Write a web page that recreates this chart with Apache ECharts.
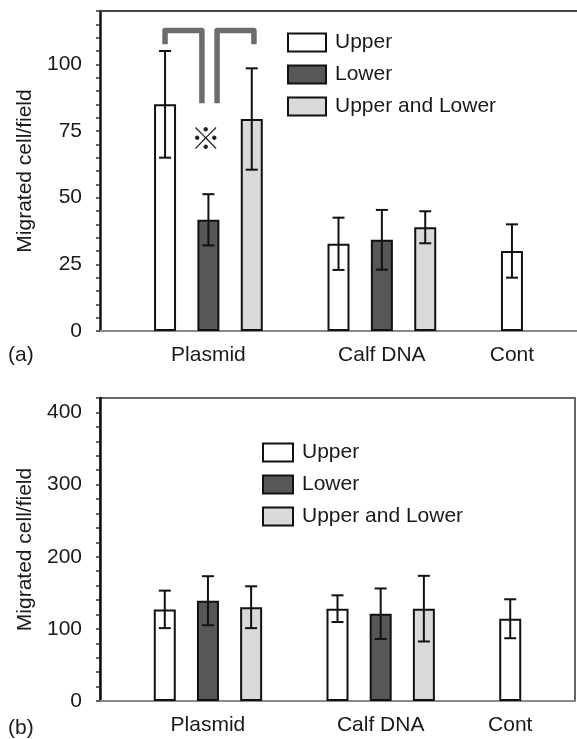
<!DOCTYPE html>
<html>
<head>
<meta charset="utf-8">
<script src="https://cdn.jsdelivr.net/npm/echarts@6/dist/echarts.min.js"></script>
<style>
  html, body { margin: 0; padding: 0; background: #fff; }
  #chart { width: 577px; height: 739px; }
</style>
</head>
<body>
<div id="chart"></div>
<script>
const groups = ['Plasmid', 'Calf DNA', 'Cont']
const seriesNames = ['Upper', 'Lower', 'Upper and Lower']
const labelSlots = [2, 6, 9]
const slotCount = 11

// panel (a)
const upperA = [85, 32.7, 30]
const upperSdA = [20, 9.8, 10]
const lowerA = [41.7, 34.2, null]
const lowerSdA = [9.6, 11.2, null]
const bothA = [79.5, 38.9, null]
const bothSdA = [19, 6, null]

// panel (b)
const upperB = [127, 128, 114]
const upperSdB = [26, 18.5, 27]
const lowerB = [139, 121, null]
const lowerSdB = [34, 35, null]
const bothB = [130, 128, null]
const bothSdB = [29, 45.5, null]

const yTicksA = [0, 25, 50, 75, 100]
const yTicksB = [0, 100, 200, 300, 400]

// significance bracket in panel (a): [x left, y left end, x right, y top, y right end]
const brackets = [
  [1.0, 107.5, 1.85, 112.7, 85.4],
  [2.2, 85.4, 3.05, 112.7, 107.5]
]
const markText = [[1.94, 72.4, '※']]

const fills = ['#ffffff', '#575757', '#d9d9d9']
const font = "'Liberation Sans', Arial, sans-serif"

const slotLabels = []
for (let i = 0; i < slotCount; i++) slotLabels.push('')
labelSlots.forEach((s, g) => { slotLabels[s] = groups[g] })

const slotOf = (g, s) => 1 + g * 4 + s

function toSlots(vals, s) {
  const arr = []
  for (let i = 0; i < slotCount; i++) arr.push('-')
  vals.forEach((v, g) => {
    if (v != null) arr[slotOf(g, s)] = v
  })
  return arr
}

function errData(vals, sds, s) {
  const out = []
  vals.forEach((v, g) => {
    if (v != null) out.push([slotOf(g, s), v, sds[g]])
  })
  return out
}

function renderErr(params, api) {
  const x = api.value(0)
  const m = api.value(1)
  const sd = api.value(2)
  const top = api.coord([x, m + sd])
  const bot = api.coord([x, m - sd])
  const hw = 6
  const st = { stroke: '#111', lineWidth: 2 }
  return {
    type: 'group',
    children: [
      { type: 'line', shape: { x1: top[0], y1: top[1], x2: bot[0], y2: bot[1] }, style: st },
      { type: 'line', shape: { x1: top[0] - hw, y1: top[1], x2: top[0] + hw, y2: top[1] }, style: st },
      { type: 'line', shape: { x1: bot[0] - hw, y1: bot[1], x2: bot[0] + hw, y2: bot[1] }, style: st }
    ]
  }
}

function renderBracket(params, api) {
  const p1 = api.coord([api.value(0), api.value(1)])
  const p2 = api.coord([api.value(0), api.value(3)])
  const p3 = api.coord([api.value(2), api.value(3)])
  const p4 = api.coord([api.value(2), api.value(4)])
  return {
    type: 'polyline',
    shape: { points: [p1, p2, p3, p4] },
    style: { stroke: '#6c6c6c', lineWidth: 5.5, fill: null, lineJoin: 'round' }
  }
}

function renderMark(params, api) {
  const p = api.coord([api.value(0), api.value(1)])
  return {
    type: 'text',
    x: p[0],
    y: p[1],
    style: {
      text: markText[params.dataIndex][2],
      fontSize: 30,
      fontFamily: "'Noto Sans CJK JP'",
      fill: '#222',
      align: 'center',
      verticalAlign: 'middle'
    }
  }
}

function barSeries(vals, s, axis) {
  return {
    name: seriesNames[s],
    type: 'bar',
    xAxisIndex: axis,
    yAxisIndex: axis,
    data: toSlots(vals, s),
    barWidth: 22,
    barGap: '-100%',
    itemStyle: { color: fills[s], borderColor: '#111', borderWidth: 2 }
  }
}

function errSeries(vals, sds, s, axis) {
  return {
    type: 'custom',
    xAxisIndex: axis,
    yAxisIndex: axis,
    data: errData(vals, sds, s),
    renderItem: renderErr,
    z: 5,
    silent: true
  }
}

function catAxis(grid) {
  return {
    type: 'category',
    gridIndex: grid,
    data: slotLabels,
    axisLine: { lineStyle: { color: '#8a8a8a', width: 2 } },
    axisTick: { interval: 0, length: 5, lineStyle: { color: '#222', width: 2 } },
    axisLabel: { interval: 0, fontSize: 21, margin: 14, color: '#1a1a1a', fontFamily: font },
    splitLine: { show: false }
  }
}

function valAxis(grid, max, step, labels) {
  return {
    type: 'value',
    gridIndex: grid,
    min: 0,
    max: max,
    interval: step,
    name: 'Migrated cell/field',
    nameLocation: 'middle',
    nameGap: 61,
    nameTextStyle: { fontSize: 21, color: '#1a1a1a', fontFamily: font },
    axisLine: { show: true, onZero: false, lineStyle: { color: '#111', width: 2.5 } },
    axisTick: { show: true, length: 4, lineStyle: { color: '#333', width: 1.5 } },
    axisLabel: {
      fontSize: 21,
      margin: 18,
      color: '#1a1a1a',
      fontFamily: font,
      formatter: v => (labels.indexOf(v) >= 0 ? String(v) : '')
    },
    splitLine: { show: false }
  }
}

function legend(left, top, w) {
  return {
    orient: 'vertical',
    left: left,
    top: top,
    padding: 0,
    itemWidth: w,
    itemHeight: 18,
    itemGap: 11,
    icon: 'rect',
    selectedMode: false,
    data: seriesNames,
    textStyle: { fontSize: 21, color: '#1a1a1a', fontFamily: font, padding: [0, 0, 0, 4] }
  }
}

const chart = echarts.init(document.getElementById('chart'), null, { renderer: 'canvas' })

chart.setOption({
  animation: false,
  backgroundColor: '#fff',
  textStyle: { fontFamily: font },
  grid: [
    { left: 100, top: 11, width: 477, height: 320 },
    { left: 100, top: 398, width: 475, height: 303, show: true, borderColor: '#666', borderWidth: 2 }
  ],
  title: [
    { text: '(a)', left: 8, top: 345, padding: 0, textStyle: { fontSize: 21, fontWeight: 'normal', color: '#1a1a1a', fontFamily: font } },
    { text: '(b)', left: 8, top: 718, padding: 0, textStyle: { fontSize: 21, fontWeight: 'normal', color: '#1a1a1a', fontFamily: font } }
  ],
  legend: [legend(287, 32, 38), legend(262, 442, 30)],
  xAxis: [
    catAxis(0),
    catAxis(1),
    {
      type: 'value',
      gridIndex: 0,
      min: -0.5,
      max: slotCount - 0.5,
      position: 'top',
      axisLine: { show: true, onZero: false, lineStyle: { color: '#444', width: 2 } },
      axisTick: { show: false },
      axisLabel: { show: false },
      splitLine: { show: false }
    }
  ],
  yAxis: [
    valAxis(0, 120, 5, yTicksA),
    valAxis(1, 420, 20, yTicksB)
  ],
  series: [
    barSeries(upperA, 0, 0),
    barSeries(lowerA, 1, 0),
    barSeries(bothA, 2, 0),
    errSeries(upperA, upperSdA, 0, 0),
    errSeries(lowerA, lowerSdA, 1, 0),
    errSeries(bothA, bothSdA, 2, 0),
    barSeries(upperB, 0, 1),
    barSeries(lowerB, 1, 1),
    barSeries(bothB, 2, 1),
    errSeries(upperB, upperSdB, 0, 1),
    errSeries(lowerB, lowerSdB, 1, 1),
    errSeries(bothB, bothSdB, 2, 1),
    {
      type: 'custom',
      xAxisIndex: 2,
      yAxisIndex: 0,
      data: brackets,
      renderItem: renderBracket,
      z: 6,
      silent: true
    },
    {
      type: 'custom',
      xAxisIndex: 2,
      yAxisIndex: 0,
      data: markText.map(d => [d[0], d[1]]),
      renderItem: renderMark,
      z: 6,
      silent: true
    }
  ]
})
</script>
</body>
</html>
